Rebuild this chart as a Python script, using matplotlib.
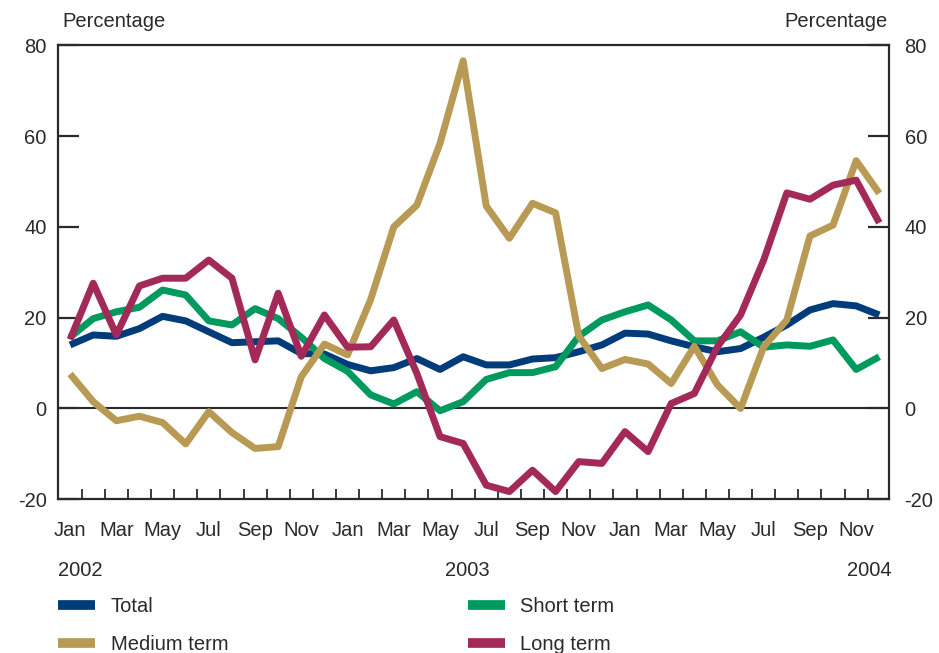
import matplotlib
matplotlib.use('Agg')
import matplotlib.pyplot as plt
from matplotlib.lines import Line2D
import numpy as np

plt.rcParams['font.family'] = ['Liberation Sans', 'DejaVu Sans']

# monthly values, Jan 2002 .. Dec 2004 (per cent)
total = [14.0, 16.2, 15.9, 17.6, 20.3, 19.3, 16.9, 14.5, 14.7, 14.9, 12.1, 12.0,
         9.7, 8.3, 9.0, 11.0, 8.6, 11.4, 9.6, 9.6, 10.9, 11.2, 12.5, 14.0,
         16.6, 16.4, 14.9, 13.6, 12.5, 13.2, 15.7, 18.4, 21.7, 23.1, 22.6, 20.6]
short_term = [15.7, 19.8, 21.3, 22.3, 26.1, 25.0, 19.3, 18.4, 22.0, 19.8, 15.7, 11.0,
              8.2, 3.0, 1.0, 3.7, -0.5, 1.5, 6.4, 7.9, 7.9, 9.2, 15.9, 19.5,
              21.3, 22.8, 19.5, 14.9, 14.9, 16.9, 13.5, 14.0, 13.7, 15.1, 8.6, 11.4]
medium_term = [7.6, 1.5, -2.7, -1.7, -3.1, -7.8, -0.7, -5.3, -8.8, -8.4, 7.0, 14.2,
               11.8, 24.0, 40.0, 44.8, 58.4, 76.6, 44.6, 37.5, 45.2, 43.1, 16.0, 8.8,
               10.8, 9.8, 5.5, 13.7, 5.2, 0.0, 13.6, 19.5, 38.0, 40.4, 54.6, 47.4]
long_term = [15.2, 27.6, 16.2, 27.0, 28.7, 28.7, 32.7, 28.7, 10.7, 25.4, 11.5, 20.6,
             13.5, 13.6, 19.5, 7.7, -6.2, -7.7, -16.9, -18.3, -13.6, -18.3, -11.7, -12.1,
             -5.1, -9.5, 1.1, 3.3, 13.6, 20.6, 32.7, 47.5, 46.1, 49.2, 50.3, 40.9]

month_labels = ['Jan', 'Mar', 'May', 'Jul', 'Sep', 'Nov'] * 3
years = ['2002', '2003', '2004']
yticks = [-20, 0, 20, 40, 60, 80]

c_total = '#003b7a'
c_short = '#009a5e'
c_medium = '#b89a55'
c_long = '#a32a58'
ink = '#2a2a2a'
fs = 14.5

fig = plt.figure(figsize=(9.39, 6.53), dpi=100)
ax = fig.add_axes([0.0621, 0.2354, 0.8849, 0.6952])

x = np.arange(len(total))
lw = 5
ax.plot(x, total, color=c_total, lw=lw, solid_capstyle='butt')
ax.plot(x, short_term, color=c_short, lw=lw, solid_capstyle='butt')
ax.plot(x, medium_term, color=c_medium, lw=lw, solid_capstyle='butt')
ax.plot(x, long_term, color=c_long, lw=lw, solid_capstyle='butt')
ax.axhline(0, color=ink, lw=1.5, zorder=1)

ax.set_xlim(-0.51, 35.43)
ax.set_ylim(-20, 80)

for s in ax.spines.values():
    s.set_color(ink)
    s.set_linewidth(1.6)

# x axis: month labels under data points, tick marks between months
ax.set_xticks(x[::2])
ax.set_xticklabels(month_labels)
ax.set_xticks(x[:-1] + 0.5, minor=True)
ax.tick_params(axis='x', which='major', length=0, pad=15.5, labelsize=fs, labelcolor=ink)
ax.tick_params(axis='x', which='minor', direction='in', length=7.5, width=1.3, color=ink)

ax.set_yticks(yticks)
ax.set_yticklabels([str(v) for v in yticks])
ax.tick_params(axis='y', direction='in', length=15, width=1.6, color=ink,
               labelsize=fs, labelcolor=ink, pad=8.5)

ax2 = ax.twinx()
ax2.set_ylim(ax.get_ylim())
ax2.set_yticks(yticks)
ax2.set_yticklabels([str(v) for v in yticks])
ax2.tick_params(axis='y', direction='in', length=15, width=1.6, color=ink,
                labelsize=fs, labelcolor=ink, pad=11)
for s in ax2.spines.values():
    s.set_visible(False)

fig.text(0.066, 0.967, 'Percentage', fontsize=fs, color=ink, va='center', ha='left')
fig.text(0.945, 0.967, 'Percentage', fontsize=fs, color=ink, va='center', ha='right')

ax.text(0.0, -0.156, years[0], transform=ax.transAxes, fontsize=fs, color=ink,
        ha='left', va='center')
ax.text(0.4925, -0.156, years[1], transform=ax.transAxes, fontsize=fs, color=ink,
        ha='center', va='center')
ax.text(1.003, -0.156, years[2], transform=ax.transAxes, fontsize=fs, color=ink,
        ha='right', va='center')


def h(c):
    return Line2D([], [], color=c, lw=7, solid_capstyle='butt')


leg_kw = dict(frameon=False, fontsize=fs, handlelength=1.85, handletextpad=0.75,
              labelspacing=0.95, borderpad=0, borderaxespad=0, loc='upper left')
l1 = fig.legend([h(c_total), h(c_medium)], ['Total', 'Medium term'],
                bbox_to_anchor=(0.062, 0.086), **leg_kw)
l2 = fig.legend([h(c_short), h(c_long)], ['Short term', 'Long term'],
                bbox_to_anchor=(0.498, 0.086), **leg_kw)
for l in (l1, l2):
    for t in l.get_texts():
        t.set_color(ink)

fig.savefig('out.png', dpi=100)
